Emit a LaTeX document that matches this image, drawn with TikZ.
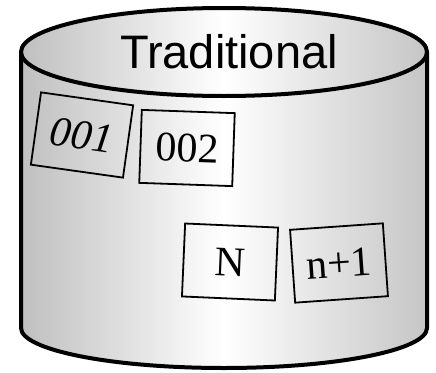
\documentclass[tikz,border=0pt]{standalone}
\usepackage{fontspec}
\setmainfont{Liberation Serif}
\setsansfont{Liberation Sans}
\usetikzlibrary{positioning}

\begin{document}
\begin{tikzpicture}[x=1pt, y=-1pt,
  body/.style = {draw, line width=4pt, line join=round, left color=gray!50, right color=gray!45, middle color=white},
  record/.style = {draw, line width=1.8pt, fill=none, minimum width=93pt, minimum height=73pt, inner sep=0pt, font=\fontsize{42}{44}\selectfont}]
\useasboundingbox (0,0) rectangle (436,372);
% cylinder
\draw[body] (21,52) -- (21,328) arc[start angle=180, end angle=0, x radius=203, y radius=40] -- (427,52) -- cycle;
\draw[body] (224,52) ellipse[x radius=203, y radius=44];
\node[font=\sffamily\fontsize{47}{50}\selectfont, anchor=base] (title) at (229,68) {Traditional};
% records
\node[record, rotate=-8] (r1) at (82,135) {\itshape 001};
\node[record, rotate=-2] (r2) at (187,148) {002};
\node[record, rotate=-2.5] (rN) at (230,262) {N};
\node[record, rotate=4] (rn1) at (339,263) {n+1};
\end{tikzpicture}
\end{document}
